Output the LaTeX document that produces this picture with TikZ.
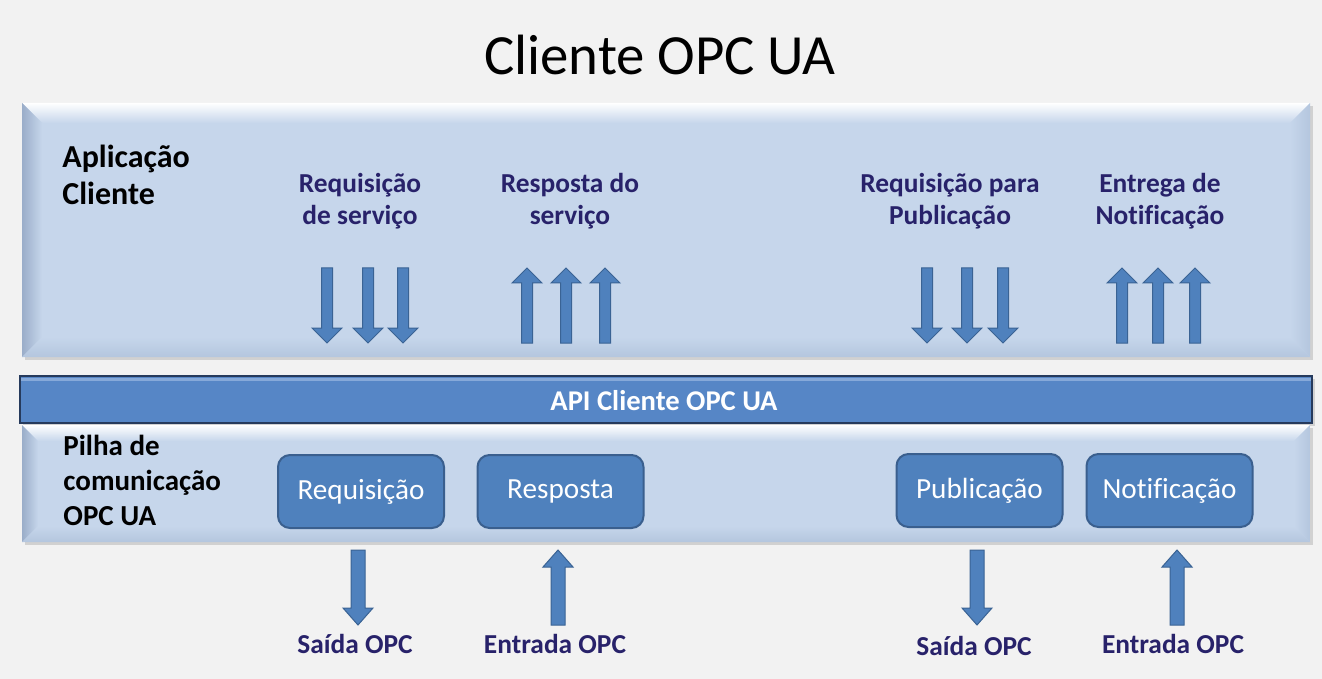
\documentclass[tikz,border=0pt]{standalone}
\usepackage{fontspec}
\setmainfont{Carlito}[Ligatures=NoCommon]
\definecolor{bg}{HTML}{F2F2F2}
\definecolor{panel}{HTML}{C6D6EB}
\definecolor{paneldark}{HTML}{9AADC9}
\definecolor{panelside}{HTML}{B4C6DE}
\definecolor{barfill}{HTML}{5686C6}
\definecolor{barline}{HTML}{263A5C}
\definecolor{barhigh}{HTML}{86A9D9}
\definecolor{boxfill}{HTML}{4F81BD}
\definecolor{boxline}{HTML}{3A5F8E}
\definecolor{arrowline}{HTML}{3A6394}
\definecolor{ink}{HTML}{28226A}

\tikzset{
  blockarrow/.style={fill=boxfill, draw=arrowline, line width=0.5pt, line join=miter},
  bluelabel/.style={text=ink, font=\bfseries\fontsize{13.7}{16}\selectfont, align=center, inner sep=0pt},
  blacklabel/.style={text=black, align=left, inner sep=0pt},
  stackbox/.style={fill=boxfill, draw=boxline, line width=1pt, rounded corners=6pt,
    minimum width=83pt, minimum height=36.5pt, text=white, font=\fontsize{14.6}{17}\selectfont},
}

% x, tail y, tip y, half shaft width, half head width, head length
\newcommand\blockarrow[6]{%
  \pgfmathsetmacro\baNeck{#3 - sign(#3-#2)*#6}%
  \filldraw[blockarrow] (#1-#4,#2) -- (#1+#4,#2) -- (#1+#4,\baNeck) -- (#1+#5,\baNeck)
    -- (#1,#3) -- (#1-#5,\baNeck) -- (#1-#4,\baNeck) -- cycle;
}

% bevelled panel: x0, y0, x1, y1, bevel width
\newcommand\bevelpanel[5]{%
  \fill[black!18] (#1+3,#2+3) rectangle (#3+3,#4+3);
  \fill[panel] (#1,#2) rectangle (#3,#4);
  \shade[top color=white, bottom color=panel] (#1,#2) -- (#3,#2) -- (#3-#5,#2+#5) -- (#1+#5,#2+#5) -- cycle;
  \shade[left color=paneldark, right color=panel] (#1,#2) -- (#1+#5,#2+#5) -- (#1+#5,#4-#5) -- (#1,#4) -- cycle;
  \shade[left color=panel, right color=panelside] (#3,#2) -- (#3-#5,#2+#5) -- (#3-#5,#4-#5) -- (#3,#4) -- cycle;
  \shade[top color=panel, bottom color=panelside] (#1,#4) -- (#1+#5,#4-#5) -- (#3-#5,#4-#5) -- (#3,#4) -- cycle;
}

\begin{document}
\begin{tikzpicture}[x=0.5pt, y=-0.5pt]
\useasboundingbox (0,0) rectangle (1322,679);
\fill[bg] (0,0) rectangle (1322,679);

% title
\node[font=\fontsize{28.4}{32}\selectfont, anchor=base, inner sep=0pt] (title) at (660,75) {Cliente OPC UA};

% client application layer (multi-line labels are anchored at their last baseline)
\bevelpanel{22}{103}{1310}{357}{20}
\node[blacklabel, anchor=base west, font=\bfseries\fontsize{16}{18.5}\selectfont] (app) at (62,205) {Aplicação\\Cliente};

\node[bluelabel, anchor=base] (reqsrv) at (360,225) {Requisição\\de serviço};
\node[bluelabel, anchor=base] (respsrv) at (570,225) {Resposta do\\serviço};
\node[bluelabel, anchor=base] (reqpub) at (950,225) {Requisição para\\Publicação};
\node[bluelabel, anchor=base] (notif) at (1160,225) {Entrega de\\Notificação};

\foreach \x in {327,368,403} {\blockarrow{\x}{268}{343}{5.5}{15}{15}}
\foreach \x in {527,566,605} {\blockarrow{\x}{343}{268}{5.5}{15}{15}}
\foreach \x in {927,967,1003} {\blockarrow{\x}{268}{343}{5.5}{15}{15}}
\foreach \x in {1122,1158,1195} {\blockarrow{\x}{343}{268}{5.5}{15}{15}}

% API bar
\fill[black!18] (23,379) rectangle (1315,426);
\filldraw[fill=barfill, draw=barline, line width=1pt] (20,376) rectangle (1312,423);
\fill[barhigh] (21,377.5) rectangle (1311,381);
\node[text=white, font=\bfseries\fontsize{14.3}{16}\selectfont, inner sep=0pt, anchor=base] (api) at (664,410) {API Cliente OPC UA};

% communication stack layer
\bevelpanel{22}{425}{1310}{542}{16}
\node[blacklabel, anchor=base west, font=\bfseries\fontsize{14.5}{17.5}\selectfont] (stack) at (63,525) {Pilha de\\comunicação\\OPC UA};

\node[stackbox] (req) at (361,491.5) {Requisição};
\node[stackbox] (resp) at (560.5,491.5) {Resposta};
\node[stackbox] (pub) at (979.5,490.5) {Publicação};
\node[stackbox] (ntf) at (1169.5,490.5) {Notificação};

\blockarrow{358}{550}{625}{7}{15}{17}
\blockarrow{558}{625}{550}{7}{15}{17}
\blockarrow{977}{550}{625}{7}{15}{17}
\blockarrow{1177}{625}{550}{7}{15}{17}

\node[bluelabel, anchor=base] (out1) at (355,653) {Saída OPC};
\node[bluelabel, anchor=base] (in1) at (555,653) {Entrada OPC};
\node[bluelabel, anchor=base] (out2) at (974,655) {Saída OPC};
\node[bluelabel, anchor=base] (in2) at (1173,653) {Entrada OPC};
\end{tikzpicture}
\end{document}
